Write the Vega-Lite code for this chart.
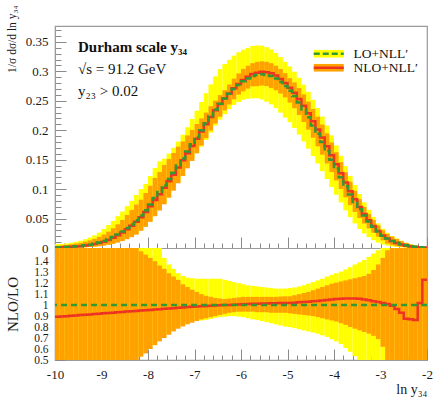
{
  "$schema": "https://vega.github.io/schema/vega-lite/v6.json",
  "width": 372,
  "height": 334,
  "autosize": {"type": "none"},
  "padding": {"left": 55, "top": 26, "right": 14, "bottom": 38},
  "config": {
    "font": "Liberation Serif",
    "view": {"stroke": "#9a9a9a", "strokeWidth": 1.2},
    "axis": {"domainColor": "#9a9a9a", "tickColor": "#8a8a8a", "labelColor": "#1a1a1a", "titleColor": "#1a1a1a", "labelFont": "Liberation Serif", "titleFont": "Liberation Serif", "grid": false, "titleFontWeight": "normal", "labelOverlap": false, "labelFlush": false, "labelBound": false}
  },
  "title": {
    "text": "Durham scale  y₃₄",
    "subtitle": ["√s = 91.2 GeV", "y₂₃ > 0.02"],
    "anchor": "start", "frame": "group", "orient": "top", "offset": 0,
    "dx": 23, "dy": 94,
    "font": "Liberation Serif", "fontSize": 15, "fontWeight": "bold", "color": "#111",
    "subtitleFont": "Liberation Serif", "subtitleFontSize": 15, "subtitleColor": "#111",
    "subtitlePadding": 7, "subtitleLineHeight": 22
  },
  "data": {"values": [
    {"x":-10,"x2":-9.9,"l":0.001,"ld":0.00023,"lu":0.0065,"n":0.00089,"nd":0.00018,"nu":0.0039,"ryd":0.23,"ryu":6.5,"rn":0.893,"rod":0.18,"rou":3.9},
    {"x":-9.9,"x2":-9.8,"l":0.0013,"ld":0.00033,"lu":0.0069,"n":0.00117,"nd":0.00026,"nu":0.0045,"ryd":0.25,"ryu":5.3,"rn":0.896,"rod":0.2,"rou":3.45},
    {"x":-9.8,"x2":-9.7,"l":0.0017,"ld":0.00044,"lu":0.0078,"n":0.00153,"nd":0.00036,"nu":0.0054,"ryd":0.26,"ryu":4.6,"rn":0.899,"rod":0.21,"rou":3.15},
    {"x":-9.7,"x2":-9.6,"l":0.0022,"ld":0.00062,"lu":0.009,"n":0.00199,"nd":0.00051,"nu":0.0064,"ryd":0.28,"ryu":4.1,"rn":0.903,"rod":0.23,"rou":2.92},
    {"x":-9.6,"x2":-9.5,"l":0.0028,"ld":0.00081,"lu":0.0105,"n":0.00254,"nd":0.00067,"nu":0.0076,"ryd":0.29,"ryu":3.75,"rn":0.906,"rod":0.24,"rou":2.72},
    {"x":-9.5,"x2":-9.4,"l":0.0035,"ld":0.00109,"lu":0.0123,"n":0.00318,"nd":0.00091,"nu":0.0089,"ryd":0.31,"ryu":3.51,"rn":0.909,"rod":0.26,"rou":2.55},
    {"x":-9.4,"x2":-9.3,"l":0.0045,"ld":0.00144,"lu":0.0149,"n":0.0041,"nd":0.00122,"nu":0.0108,"ryd":0.32,"ryu":3.31,"rn":0.912,"rod":0.27,"rou":2.4},
    {"x":-9.3,"x2":-9.2,"l":0.0057,"ld":0.00194,"lu":0.0178,"n":0.00522,"nd":0.00165,"nu":0.0129,"ryd":0.34,"ryu":3.12,"rn":0.915,"rod":0.29,"rou":2.27},
    {"x":-9.2,"x2":-9.1,"l":0.0072,"ld":0.00252,"lu":0.0215,"n":0.00661,"nd":0.00216,"nu":0.0155,"ryd":0.35,"ryu":2.99,"rn":0.918,"rod":0.3,"rou":2.15},
    {"x":-9.1,"x2":-9,"l":0.0092,"ld":0.0034,"lu":0.0262,"n":0.00848,"nd":0.00294,"nu":0.0189,"ryd":0.37,"ryu":2.85,"rn":0.922,"rod":0.32,"rou":2.05},
    {"x":-9,"x2":-8.9,"l":0.0117,"ld":0.00456,"lu":0.032,"n":0.01082,"nd":0.00398,"nu":0.0229,"ryd":0.39,"ryu":2.74,"rn":0.925,"rod":0.34,"rou":1.96},
    {"x":-8.9,"x2":-8.8,"l":0.0148,"ld":0.00607,"lu":0.039,"n":0.01373,"nd":0.00533,"nu":0.0278,"ryd":0.41,"ryu":2.64,"rn":0.928,"rod":0.36,"rou":1.88},
    {"x":-8.8,"x2":-8.7,"l":0.0185,"ld":0.00796,"lu":0.046,"n":0.01722,"nd":0.00703,"nu":0.0335,"ryd":0.43,"ryu":2.49,"rn":0.931,"rod":0.38,"rou":1.81},
    {"x":-8.7,"x2":-8.6,"l":0.023,"ld":0.01035,"lu":0.054,"n":0.02148,"nd":0.0092,"nu":0.0403,"ryd":0.45,"ryu":2.35,"rn":0.934,"rod":0.4,"rou":1.75},
    {"x":-8.6,"x2":-8.5,"l":0.028,"ld":0.01316,"lu":0.062,"n":0.02624,"nd":0.01176,"nu":0.0476,"ryd":0.47,"ryu":2.21,"rn":0.937,"rod":0.42,"rou":1.7},
    {"x":-8.5,"x2":-8.4,"l":0.034,"ld":0.01666,"lu":0.071,"n":0.03199,"nd":0.01496,"nu":0.0561,"ryd":0.49,"ryu":2.09,"rn":0.941,"rod":0.44,"rou":1.65},
    {"x":-8.4,"x2":-8.3,"l":0.04,"ld":0.0204,"lu":0.08,"n":0.03776,"nd":0.0184,"nu":0.0644,"ryd":0.51,"ryu":2.0,"rn":0.944,"rod":0.46,"rou":1.61},
    {"x":-8.3,"x2":-8.2,"l":0.047,"ld":0.02491,"lu":0.09,"n":0.04451,"nd":0.02256,"nu":0.0738,"ryd":0.53,"ryu":1.91,"rn":0.947,"rod":0.48,"rou":1.57},
    {"x":-8.2,"x2":-8.1,"l":0.055,"ld":0.0308,"lu":0.1,"n":0.05225,"nd":0.02915,"nu":0.082,"ryd":0.56,"ryu":1.82,"rn":0.95,"rod":0.53,"rou":1.49},
    {"x":-8.1,"x2":-8,"l":0.064,"ld":0.03776,"lu":0.1088,"n":0.06099,"nd":0.03584,"nu":0.0934,"ryd":0.59,"ryu":1.7,"rn":0.953,"rod":0.56,"rou":1.46},
    {"x":-8,"x2":-7.9,"l":0.074,"ld":0.04662,"lu":0.1221,"n":0.07074,"nd":0.0444,"nu":0.1058,"ryd":0.63,"ryu":1.65,"rn":0.956,"rod":0.6,"rou":1.43},
    {"x":-7.9,"x2":-7.8,"l":0.085,"ld":0.05653,"lu":0.136,"n":0.0816,"nd":0.05398,"nu":0.119,"ryd":0.665,"ryu":1.6,"rn":0.96,"rod":0.635,"rou":1.4},
    {"x":-7.8,"x2":-7.7,"l":0.095,"ld":0.0665,"lu":0.1473,"n":0.09149,"nd":0.06365,"nu":0.1292,"ryd":0.7,"ryu":1.55,"rn":0.963,"rod":0.67,"rou":1.36},
    {"x":-7.7,"x2":-7.6,"l":0.106,"ld":0.07738,"lu":0.1516,"n":0.1024,"nd":0.0742,"nu":0.141,"ryd":0.73,"ryu":1.43,"rn":0.966,"rod":0.7,"rou":1.33},
    {"x":-7.6,"x2":-7.5,"l":0.117,"ld":0.08892,"lu":0.1603,"n":0.11337,"nd":0.08541,"nu":0.1509,"ryd":0.76,"ryu":1.37,"rn":0.969,"rod":0.73,"rou":1.29},
    {"x":-7.5,"x2":-7.4,"l":0.128,"ld":0.10112,"lu":0.1702,"n":0.12442,"nd":0.09728,"nu":0.1613,"ryd":0.79,"ryu":1.33,"rn":0.972,"rod":0.76,"rou":1.26},
    {"x":-7.4,"x2":-7.3,"l":0.14,"ld":0.1141,"lu":0.1806,"n":0.1365,"nd":0.1099,"nu":0.1722,"ryd":0.815,"ryu":1.29,"rn":0.975,"rod":0.785,"rou":1.23},
    {"x":-7.3,"x2":-7.2,"l":0.152,"ld":0.12692,"lu":0.1923,"n":0.14881,"nd":0.12236,"nu":0.1809,"ryd":0.835,"ryu":1.265,"rn":0.979,"rod":0.805,"rou":1.19},
    {"x":-7.2,"x2":-7.1,"l":0.164,"ld":0.14022,"lu":0.205,"n":0.16105,"nd":0.1353,"nu":0.1911,"ryd":0.855,"ryu":1.25,"rn":0.982,"rod":0.825,"rou":1.165},
    {"x":-7.1,"x2":-7,"l":0.176,"ld":0.15312,"lu":0.2191,"n":0.17336,"nd":0.14784,"nu":0.2006,"ryd":0.87,"ryu":1.245,"rn":0.985,"rod":0.84,"rou":1.14},
    {"x":-7,"x2":-6.9,"l":0.188,"ld":0.16168,"lu":0.2331,"n":0.18574,"nd":0.16074,"nu":0.2106,"ryd":0.86,"ryu":1.24,"rn":0.988,"rod":0.855,"rou":1.12},
    {"x":-6.9,"x2":-6.8,"l":0.2,"ld":0.172,"lu":0.248,"n":0.198,"nd":0.174,"nu":0.22,"ryd":0.86,"ryu":1.24,"rn":0.99,"rod":0.87,"rou":1.1},
    {"x":-6.8,"x2":-6.7,"l":0.212,"ld":0.18338,"lu":0.2629,"n":0.2103,"nd":0.18656,"nu":0.23,"ryd":0.865,"ryu":1.24,"rn":0.992,"rod":0.88,"rou":1.085},
    {"x":-6.7,"x2":-6.6,"l":0.224,"ld":0.196,"lu":0.2778,"n":0.22266,"nd":0.19936,"nu":0.2408,"ryd":0.875,"ryu":1.24,"rn":0.994,"rod":0.89,"rou":1.075},
    {"x":-6.6,"x2":-6.5,"l":0.235,"ld":0.20798,"lu":0.2914,"n":0.23406,"nd":0.2115,"nu":0.2503,"ryd":0.885,"ryu":1.24,"rn":0.996,"rod":0.9,"rou":1.065},
    {"x":-6.5,"x2":-6.4,"l":0.245,"ld":0.21805,"lu":0.3038,"n":0.24451,"nd":0.22295,"nu":0.2597,"ryd":0.89,"ryu":1.24,"rn":0.998,"rod":0.91,"rou":1.06},
    {"x":-6.4,"x2":-6.3,"l":0.254,"ld":0.22733,"lu":0.3124,"n":0.254,"nd":0.23368,"nu":0.268,"ryd":0.895,"ryu":1.23,"rn":1.0,"rod":0.92,"rou":1.055},
    {"x":-6.3,"x2":-6.2,"l":0.262,"ld":0.2358,"lu":0.3196,"n":0.26252,"nd":0.24366,"nu":0.2777,"ryd":0.9,"ryu":1.22,"rn":1.002,"rod":0.93,"rou":1.06},
    {"x":-6.2,"x2":-6.1,"l":0.27,"ld":0.243,"lu":0.3267,"n":0.27108,"nd":0.25245,"nu":0.2876,"ryd":0.9,"ryu":1.21,"rn":1.004,"rod":0.935,"rou":1.065},
    {"x":-6.1,"x2":-6,"l":0.277,"ld":0.24792,"lu":0.3324,"n":0.27866,"nd":0.26038,"nu":0.2964,"ryd":0.895,"ryu":1.2,"rn":1.006,"rod":0.94,"rou":1.07},
    {"x":-6,"x2":-5.9,"l":0.283,"ld":0.25187,"lu":0.3368,"n":0.28526,"nd":0.26602,"nu":0.3042,"ryd":0.89,"ryu":1.19,"rn":1.008,"rod":0.94,"rou":1.075},
    {"x":-5.9,"x2":-5.8,"l":0.288,"ld":0.25344,"lu":0.3398,"n":0.29088,"nd":0.27072,"nu":0.3096,"ryd":0.88,"ryu":1.18,"rn":1.01,"rod":0.94,"rou":1.075},
    {"x":-5.8,"x2":-5.7,"l":0.292,"ld":0.25404,"lu":0.3431,"n":0.2955,"nd":0.27448,"nu":0.3139,"ryd":0.87,"ryu":1.175,"rn":1.012,"rod":0.94,"rou":1.075},
    {"x":-5.7,"x2":-5.6,"l":0.294,"ld":0.25431,"lu":0.344,"n":0.29782,"nd":0.27489,"nu":0.3161,"ryd":0.865,"ryu":1.17,"rn":1.013,"rod":0.935,"rou":1.075},
    {"x":-5.6,"x2":-5.5,"l":0.295,"ld":0.25223,"lu":0.3437,"n":0.29913,"nd":0.27583,"nu":0.3171,"ryd":0.855,"ryu":1.165,"rn":1.014,"rod":0.935,"rou":1.075},
    {"x":-5.5,"x2":-5.4,"l":0.294,"ld":0.24843,"lu":0.341,"n":0.29841,"nd":0.27489,"nu":0.3161,"ryd":0.845,"ryu":1.16,"rn":1.015,"rod":0.935,"rou":1.075},
    {"x":-5.4,"x2":-5.3,"l":0.292,"ld":0.24382,"lu":0.3373,"n":0.29667,"nd":0.27156,"nu":0.3139,"ryd":0.835,"ryu":1.155,"rn":1.016,"rod":0.93,"rou":1.075},
    {"x":-5.3,"x2":-5.2,"l":0.288,"ld":0.2376,"lu":0.3312,"n":0.2929,"nd":0.26784,"nu":0.3096,"ryd":0.825,"ryu":1.15,"rn":1.017,"rod":0.93,"rou":1.075},
    {"x":-5.2,"x2":-5.1,"l":0.282,"ld":0.22983,"lu":0.3243,"n":0.28708,"nd":0.26226,"nu":0.304,"ryd":0.815,"ryu":1.15,"rn":1.018,"rod":0.93,"rou":1.078},
    {"x":-5.1,"x2":-5,"l":0.275,"ld":0.22138,"lu":0.3163,"n":0.28023,"nd":0.25575,"nu":0.297,"ryd":0.805,"ryu":1.15,"rn":1.019,"rod":0.93,"rou":1.08},
    {"x":-5,"x2":-4.9,"l":0.267,"ld":0.2136,"lu":0.3084,"n":0.27234,"nd":0.24698,"nu":0.2884,"ryd":0.8,"ryu":1.155,"rn":1.02,"rod":0.925,"rou":1.08},
    {"x":-4.9,"x2":-4.8,"l":0.258,"ld":0.20382,"lu":0.2993,"n":0.26368,"nd":0.23736,"nu":0.2812,"ryd":0.79,"ryu":1.16,"rn":1.022,"rod":0.92,"rou":1.09},
    {"x":-4.8,"x2":-4.7,"l":0.247,"ld":0.19266,"lu":0.289,"n":0.25318,"nd":0.22601,"nu":0.2717,"ryd":0.78,"ryu":1.17,"rn":1.025,"rod":0.915,"rou":1.1},
    {"x":-4.7,"x2":-4.6,"l":0.235,"ld":0.18095,"lu":0.2773,"n":0.24158,"nd":0.21385,"nu":0.2609,"ryd":0.77,"ryu":1.18,"rn":1.028,"rod":0.91,"rou":1.11},
    {"x":-4.6,"x2":-4.5,"l":0.222,"ld":0.16872,"lu":0.2653,"n":0.22888,"nd":0.20091,"nu":0.2486,"ryd":0.76,"ryu":1.195,"rn":1.031,"rod":0.905,"rou":1.12},
    {"x":-4.5,"x2":-4.4,"l":0.208,"ld":0.156,"lu":0.2517,"n":0.21507,"nd":0.1872,"nu":0.2361,"ryd":0.75,"ryu":1.21,"rn":1.034,"rod":0.9,"rou":1.135},
    {"x":-4.4,"x2":-4.3,"l":0.194,"ld":0.14356,"lu":0.2377,"n":0.20137,"nd":0.17266,"nu":0.2231,"ryd":0.74,"ryu":1.225,"rn":1.038,"rod":0.89,"rou":1.15},
    {"x":-4.3,"x2":-4.2,"l":0.18,"ld":0.1305,"lu":0.2232,"n":0.18756,"nd":0.1584,"nu":0.2097,"ryd":0.725,"ryu":1.24,"rn":1.042,"rod":0.88,"rou":1.165},
    {"x":-4.2,"x2":-4.1,"l":0.165,"ld":0.11715,"lu":0.2079,"n":0.17259,"nd":0.14355,"nu":0.1947,"ryd":0.71,"ryu":1.26,"rn":1.046,"rod":0.87,"rou":1.18},
    {"x":-4.1,"x2":-4,"l":0.15,"ld":0.1035,"lu":0.1913,"n":0.1575,"nd":0.129,"nu":0.1793,"ryd":0.69,"ryu":1.275,"rn":1.05,"rod":0.86,"rou":1.195},
    {"x":-4,"x2":-3.9,"l":0.135,"ld":0.09045,"lu":0.1742,"n":0.14243,"nd":0.11475,"nu":0.1627,"ryd":0.67,"ryu":1.29,"rn":1.055,"rod":0.85,"rou":1.205},
    {"x":-3.9,"x2":-3.8,"l":0.12,"ld":0.0774,"lu":0.1566,"n":0.12696,"nd":0.1002,"nu":0.1458,"ryd":0.645,"ryu":1.305,"rn":1.058,"rod":0.835,"rou":1.215},
    {"x":-3.8,"x2":-3.7,"l":0.105,"ld":0.06405,"lu":0.1391,"n":0.1113,"nd":0.0861,"nu":0.1286,"ryd":0.61,"ryu":1.325,"rn":1.06,"rod":0.82,"rou":1.225},
    {"x":-3.7,"x2":-3.6,"l":0.091,"ld":0.05233,"lu":0.1224,"n":0.09646,"nd":0.0728,"nu":0.1124,"ryd":0.575,"ryu":1.345,"rn":1.06,"rod":0.8,"rou":1.235},
    {"x":-3.6,"x2":-3.5,"l":0.078,"ld":0.04173,"lu":0.1069,"n":0.08268,"nd":0.06123,"nu":0.0971,"ryd":0.535,"ryu":1.37,"rn":1.06,"rod":0.785,"rou":1.245},
    {"x":-3.5,"x2":-3.4,"l":0.066,"ld":0.03234,"lu":0.0917,"n":0.06983,"nd":0.05082,"nu":0.0828,"ryd":0.49,"ryu":1.39,"rn":1.058,"rod":0.77,"rou":1.255},
    {"x":-3.4,"x2":-3.3,"l":0.055,"ld":0.02475,"lu":0.0776,"n":0.05786,"nd":0.04153,"nu":0.0696,"ryd":0.45,"ryu":1.41,"rn":1.052,"rod":0.755,"rou":1.265},
    {"x":-3.3,"x2":-3.2,"l":0.045,"ld":0.01845,"lu":0.0648,"n":0.04703,"nd":0.0333,"nu":0.0578,"ryd":0.41,"ryu":1.44,"rn":1.045,"rod":0.74,"rou":1.285},
    {"x":-3.2,"x2":-3.1,"l":0.036,"ld":0.01332,"lu":0.0529,"n":0.03726,"nd":0.02592,"nu":0.0475,"ryd":0.37,"ryu":1.47,"rn":1.035,"rod":0.72,"rou":1.32},
    {"x":-3.1,"x2":-3,"l":0.028,"ld":0.00924,"lu":0.042,"n":0.02878,"nd":0.01932,"nu":0.0384,"ryd":0.33,"ryu":1.5,"rn":1.028,"rod":0.69,"rou":1.37},
    {"x":-3,"x2":-2.9,"l":0.021,"ld":0.00609,"lu":0.0326,"n":0.02142,"nd":0.01302,"nu":0.03,"ryd":0.29,"ryu":1.55,"rn":1.02,"rod":0.62,"rou":1.43},
    {"x":-2.9,"x2":-2.8,"l":0.016,"ld":0.004,"lu":0.0259,"n":0.01616,"nd":0.0072,"nu":0.024,"ryd":0.25,"ryu":1.62,"rn":1.01,"rod":0.45,"rou":1.5},
    {"x":-2.8,"x2":-2.7,"l":0.012,"ld":0.00264,"lu":0.0204,"n":0.01194,"nd":0.0048,"nu":0.0192,"ryd":0.22,"ryu":1.7,"rn":0.995,"rod":0.4,"rou":1.6},
    {"x":-2.7,"x2":-2.6,"l":0.009,"ld":0.00171,"lu":0.0162,"n":0.00869,"nd":0.00315,"nu":0.0153,"ryd":0.19,"ryu":1.8,"rn":0.965,"rod":0.35,"rou":1.7},
    {"x":-2.6,"x2":-2.5,"l":0.0065,"ld":0.00104,"lu":0.0124,"n":0.00605,"nd":0.00195,"nu":0.0117,"ryd":0.16,"ryu":1.9,"rn":0.93,"rod":0.3,"rou":1.8},
    {"x":-2.5,"x2":-2.4,"l":0.0045,"ld":0.00059,"lu":0.009,"n":0.00394,"nd":0.00113,"nu":0.0086,"ryd":0.13,"ryu":2.0,"rn":0.875,"rod":0.25,"rou":1.9},
    {"x":-2.4,"x2":-2.3,"l":0.003,"ld":0.0003,"lu":0.0063,"n":0.00261,"nd":0.0006,"nu":0.006,"ryd":0.1,"ryu":2.1,"rn":0.87,"rod":0.2,"rou":2.0},
    {"x":-2.3,"x2":-2.2,"l":0.002,"ld":0.00016,"lu":0.0044,"n":0.00173,"nd":0.0003,"nu":0.0042,"ryd":0.08,"ryu":2.2,"rn":0.865,"rod":0.15,"rou":2.1},
    {"x":-2.2,"x2":-2.1,"l":0.0012,"ld":0.00007,"lu":0.0028,"n":0.00122,"nd":0.00012,"nu":0.0026,"ryd":0.06,"ryu":2.3,"rn":1.02,"rod":0.1,"rou":2.2},
    {"x":-2.1,"x2":-2,"l":0.0006,"ld":0.00002,"lu":0.0014,"n":0.00074,"nd":0.00003,"nu":0.0014,"ryd":0.04,"ryu":2.4,"rn":1.23,"rod":0.05,"rou":2.4},
    {"x":-2,"l":0.0006,"n":0.00074,"rn":1.23}
  ]},
  "layer": [
    {
      "transform": [{"filter": "isValid(datum.x2)"}],
      "mark": {"type": "rect"},
      "encoding": {
        "x": {"field": "x", "type": "quantitative", "scale": {"domain": [-10, -2], "nice": false, "zero": false},
          "axis": {"orient": "top", "offset": -222, "values": [-10,-9.8,-9.6,-9.4,-9.2,-9,-8.8,-8.6,-8.4,-8.2,-8,-7.8,-7.6,-7.4,-7.2,-7,-6.8,-6.6,-6.4,-6.2,-6,-5.8,-5.6,-5.4,-5.2,-5,-4.8,-4.6,-4.4,-4.2,-4,-3.8,-3.6,-3.4,-3.2,-3,-2.8,-2.6,-2.4,-2.2,-2],
            "labels": false, "title": null,
            "tickSize": {"condition": {"test": "abs(datum.value - round(datum.value)) < 0.001", "value": 11}, "value": 5}}},
        "x2": {"field": "x2"},
        "y": {"field": "lu", "type": "quantitative", "scale": {"domain": [0, 0.377], "range": [222, 0], "nice": false, "zero": false},
          "axis": {"orient": "left", "values": [0,0.01,0.02,0.03,0.04,0.05,0.06,0.07,0.08,0.09,0.1,0.11,0.12,0.13,0.14,0.15,0.16,0.17,0.18,0.19,0.2,0.21,0.22,0.23,0.24,0.25,0.26,0.27,0.28,0.29,0.3,0.31,0.32,0.33,0.34,0.35,0.36,0.37],
            "tickSize": {"condition": {"test": "abs(datum.value*20 - round(datum.value*20)) < 0.001", "value": -11}, "value": -6},
            "labelPadding": 18, "labelFontSize": 13,
            "labelExpr": "abs(datum.value*20 - round(datum.value*20)) < 0.001 ? '' + datum.value : ''",
            "title": "1/σ dσ/d ln y₃₄", "titleFontSize": 11.5, "titleX": -43, "titleY": -21, "titleAngle": -90, "titleAlign": "right", "titleBaseline": "middle"}},
        "y2": {"field": "ld"},
        "fill": {"datum": "LO+NLL′", "scale": {"domain": ["LO+NLL′", "NLO+NLL′"], "range": ["#ffff00", "#ffa200"]},
          "legend": {"orient": "none", "legendX": 267, "legendY": 21, "title": null, "direction": "vertical",
            "symbolType": "M-7.5,-1.9H7.5V1.9H-7.5Z", "symbolSize": 16, "symbolStrokeWidth": 0, "symbolOpacity": 1,
            "labelFont": "Liberation Serif", "labelFontSize": 13.5, "labelColor": "#111", "labelOffset": 18,
            "rowPadding": -1.5, "padding": 0, "zindex": 1}}
      }
    },
    {
      "transform": [{"filter": "isValid(datum.x2)"}],
      "mark": {"type": "rect"},
      "encoding": {
        "x": {"field": "x", "type": "quantitative", "axis": null},
        "x2": {"field": "x2"},
        "y": {"field": "nu", "type": "quantitative", "scale": {"domain": [0, 0.377], "range": [222, 0], "nice": false, "zero": false}, "axis": null},
        "y2": {"field": "nd"},
        "fill": {"datum": "NLO+NLL′"}
      }
    },
    {
      "mark": {"type": "line", "interpolate": "step-after", "strokeWidth": 2.5},
      "encoding": {
        "x": {"field": "x", "type": "quantitative", "axis": null},
        "y": {"field": "n", "type": "quantitative", "scale": {"domain": [0, 0.377], "range": [222, 0], "nice": false, "zero": false}, "axis": null},
        "stroke": {"datum": "NLO", "scale": {"domain": ["LO", "NLO"], "range": ["#339933", "#ee3322"]},
          "legend": {"orient": "none", "legendX": 267, "legendY": 21, "title": null, "direction": "vertical",
            "symbolType": "M-7.5,0H7.5", "symbolSize": 16, "symbolStrokeWidth": 2.5,
            "labelFont": "Liberation Serif", "labelFontSize": 13.5, "labelOffset": 18, "labelOpacity": 0,
            "labelExpr": "datum.label + '+NLL′'",
            "rowPadding": -1.5, "padding": 0, "zindex": 2}},
        "strokeDash": {"datum": "NLO", "scale": {"domain": ["LO", "NLO"], "range": [[6, 3], [1, 0]]},
          "legend": {"orient": "none", "legendX": 267, "legendY": 21, "title": null, "direction": "vertical",
            "symbolType": "M-7.5,0H7.5", "symbolSize": 16, "symbolStrokeWidth": 2.5,
            "labelFont": "Liberation Serif", "labelFontSize": 13.5, "labelOffset": 18, "labelOpacity": 0,
            "labelExpr": "datum.label + '+NLL′'",
            "rowPadding": -1.5, "padding": 0, "zindex": 2}}
      }
    },
    {
      "mark": {"type": "line", "interpolate": "step-after", "strokeWidth": 2.5},
      "encoding": {
        "x": {"field": "x", "type": "quantitative", "axis": null},
        "y": {"field": "l", "type": "quantitative", "scale": {"domain": [0, 0.377], "range": [222, 0], "nice": false, "zero": false}, "axis": null},
        "stroke": {"datum": "LO"},
        "strokeDash": {"datum": "LO"}
      }
    },
    {
      "transform": [{"filter": "isValid(datum.x2)"}],
      "mark": {"type": "rect", "color": "#ffff00"},
      "encoding": {
        "x": {"field": "x", "type": "quantitative",
          "axis": {"orient": "bottom", "values": [-10,-9.8,-9.6,-9.4,-9.2,-9,-8.8,-8.6,-8.4,-8.2,-8,-7.8,-7.6,-7.4,-7.2,-7,-6.8,-6.6,-6.4,-6.2,-6,-5.8,-5.6,-5.4,-5.2,-5,-4.8,-4.6,-4.4,-4.2,-4,-3.8,-3.6,-3.4,-3.2,-3,-2.8,-2.6,-2.4,-2.2,-2],
            "tickSize": {"condition": {"test": "abs(datum.value - round(datum.value)) < 0.001", "value": -11}, "value": -5},
            "labelPadding": 19, "labelFontSize": 13,
            "labelExpr": "abs(datum.value - round(datum.value)) < 0.001 ? '' + datum.value : ''",
            "title": "ln y₃₄", "titleFontSize": 14, "titleAnchor": "end", "titleAlign": "right", "titleX": 372, "titleY": 36, "titleBaseline": "bottom"}},
        "x2": {"field": "x2"},
        "y": {"field": "ryu", "type": "quantitative", "scale": {"domain": [0.5, 1.52], "range": [334, 222], "nice": false, "zero": false, "clamp": true},
          "axis": {"orient": "left", "values": [0.5,0.52,0.54,0.56,0.58,0.6,0.62,0.64,0.66,0.68,0.7,0.72,0.74,0.76,0.78,0.8,0.82,0.84,0.86,0.88,0.9,0.92,0.94,0.96,0.98,1,1.02,1.04,1.06,1.08,1.1,1.12,1.14,1.16,1.18,1.2,1.22,1.24,1.26,1.28,1.3,1.32,1.34,1.36,1.38,1.4,1.42,1.44,1.46,1.48,1.5],
            "tickSize": {"condition": {"test": "abs(datum.value*10 - round(datum.value*10)) < 0.001", "value": -10}, "value": -5},
            "labelPadding": 17, "labelFontSize": 11.5,
            "labelExpr": "abs(datum.value*10 - round(datum.value*10)) < 0.001 && datum.value < 1.45 ? '' + datum.value : ''",
            "title": "NLO/LO", "titleFontSize": 15, "titleX": -43, "titleBaseline": "middle"}},
        "y2": {"field": "ryd"}
      }
    },
    {
      "transform": [{"filter": "isValid(datum.x2)"}],
      "mark": {"type": "rect", "color": "#ffa200"},
      "encoding": {
        "x": {"field": "x", "type": "quantitative", "axis": null},
        "x2": {"field": "x2"},
        "y": {"field": "rou", "type": "quantitative", "scale": {"domain": [0.5, 1.52], "range": [334, 222], "nice": false, "zero": false, "clamp": true}, "axis": null},
        "y2": {"field": "rod"}
      }
    },
    {
      "mark": {"type": "line", "interpolate": "step-after", "strokeWidth": 2.5, "color": "#ee3322"},
      "encoding": {
        "x": {"field": "x", "type": "quantitative", "axis": null},
        "y": {"field": "rn", "type": "quantitative", "scale": {"domain": [0.5, 1.52], "range": [334, 222], "nice": false, "zero": false, "clamp": true}, "axis": null}
      }
    },
    {
      "data": {"values": [{}]},
      "mark": {"type": "rule", "strokeWidth": 2.5, "strokeDash": [6, 4], "color": "#339933"},
      "encoding": {
        "y": {"datum": 1, "type": "quantitative", "scale": {"domain": [0.5, 1.52], "range": [334, 222], "nice": false, "zero": false, "clamp": true}, "axis": null}
      }
    }
  ],
  "resolve": {"scale": {"y": "independent"}, "axis": {"x": "independent", "y": "independent"}}
}
